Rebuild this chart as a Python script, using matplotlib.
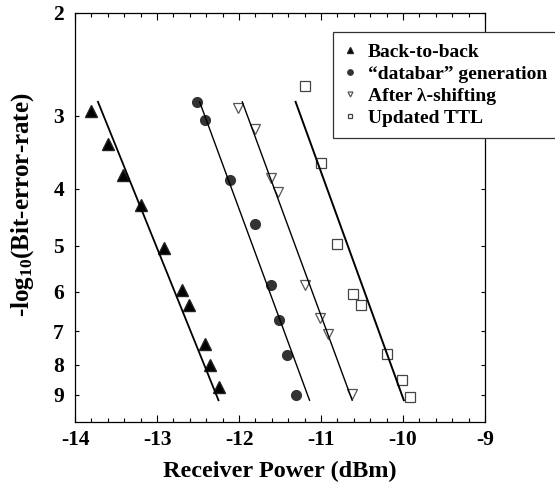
import matplotlib
matplotlib.use('Agg')
import matplotlib.pyplot as plt
from matplotlib.ticker import FixedLocator, MultipleLocator, NullLocator

plt.rcParams['font.family'] = ['Liberation Serif', 'DejaVu Serif']
plt.rcParams['font.weight'] = 'bold'
plt.rcParams['mathtext.fontset'] = 'custom'
plt.rcParams['mathtext.rm'] = 'Liberation Serif:bold'
plt.rcParams['mathtext.it'] = 'Liberation Serif:bold'
plt.rcParams['mathtext.bf'] = 'Liberation Serif:bold'
plt.rcParams['axes.unicode_minus'] = False

# Back-to-back
b2b_x = [-13.81, -13.60, -13.41, -13.20, -12.91, -12.69, -12.61, -12.41, -12.35, -12.25]
b2b_y = [2.95, 3.35, 3.79, 4.27, 5.05, 5.95, 6.32, 7.37, 7.99, 8.74]
b2b_fit_x = [-13.72, -12.25]
b2b_fit_y = [2.84, 9.19]

# "databar" generation
db_x = [-12.51, -12.41, -12.11, -11.81, -11.61, -11.51, -11.41, -11.31]
db_y = [2.84, 3.05, 3.86, 4.60, 5.84, 6.71, 7.70, 9.02]
db_fit_x = [-12.48, -11.14]
db_fit_y = [2.84, 9.19]

# After lambda-shifting
ls_x = [-12.01, -11.81, -11.61, -11.52, -11.20, -11.01, -10.91, -10.62]
ls_y = [2.91, 3.16, 3.83, 4.05, 5.84, 6.66, 7.07, 8.95]
ls_fit_x = [-11.96, -10.62]
ls_fit_y = [2.84, 9.19]

# Updated TTL
ttl_x = [-11.20, -11.00, -10.81, -10.61, -10.51, -10.20, -10.01, -9.92]
ttl_y = [2.67, 3.61, 4.97, 6.06, 6.33, 7.66, 8.49, 9.07]
ttl_fit_x = [-11.31, -9.99]
ttl_fit_y = [2.84, 9.19]

y_ticks = [2, 3, 4, 5, 6, 7, 8, 9]
x_ticks = [-14, -13, -12, -11, -10, -9]

fig = plt.figure(figsize=(5.55, 4.87), dpi=100)
ax = fig.add_axes([75 / 555, 1 - 421.7 / 487, 410 / 555, 409 / 487])

ax.plot(b2b_x, b2b_y, '^', color='black', ms=8.5, mec='#222222', label='Back-to-back')
ax.plot(db_x, db_y, 'o', color='#333333', ms=7, mec='#333333', label='\u201cdatabar\u201d generation')
ax.plot(ls_x, ls_y, 'v', mfc='white', mec='#555555', mew=0.9, ms=6.5, label='After \u03bb-shifting')
ax.plot(ttl_x, ttl_y, 's', mfc='white', mec='#444444', mew=0.9, ms=6.5, label='Updated TTL')

ax.plot(b2b_fit_x, b2b_fit_y, '-', color='black', lw=1.3)
ax.plot(db_fit_x, db_fit_y, '-', color='black', lw=1.0)
ax.plot(ls_fit_x, ls_fit_y, '-', color='black', lw=1.0)
ax.plot(ttl_fit_x, ttl_fit_y, '-', color='black', lw=1.4)

ax.set_yscale('log')
ax.set_ylim(10, 2)
ax.yaxis.set_major_locator(FixedLocator(y_ticks))
ax.yaxis.set_minor_locator(NullLocator())
ax.set_yticklabels([str(t) for t in y_ticks])

ax.set_xlim(-14, -9)
ax.set_xticks(x_ticks)
ax.set_xticklabels([str(t) for t in x_ticks])
ax.xaxis.set_minor_locator(MultipleLocator(0.2))

ax.tick_params(axis='both', which='both', direction='in', top=True, right=True, width=0.8)
ax.tick_params(axis='x', which='major', length=5, pad=6, labelsize=15.5)
ax.tick_params(axis='x', which='minor', length=3)
ax.tick_params(axis='y', which='major', length=3, pad=8, labelsize=15.5)
for s in ax.spines.values():
    s.set_linewidth(0.9)

ax.set_xlabel('Receiver Power (dBm)', fontsize=17.5, fontweight='bold', labelpad=8)
ax.set_ylabel(r'-log$_{10}$(Bit-error-rate)', fontsize=18, fontweight='bold')
ax.yaxis.set_label_coords(-0.095, 0.531)

leg = ax.legend(loc='upper left', bbox_to_anchor=(333 / 555, 1 - 32 / 487),
                bbox_transform=fig.transFigure, fontsize=14, markerscale=0.55,
                handlelength=0.5, handletextpad=0.7, labelspacing=0.215,
                borderpad=0.6, fancybox=False, framealpha=1, edgecolor='#333333',
                borderaxespad=0)
leg.get_frame().set_linewidth(0.9)
leg.set_zorder(10)

fig.savefig('out.png', dpi=100)
